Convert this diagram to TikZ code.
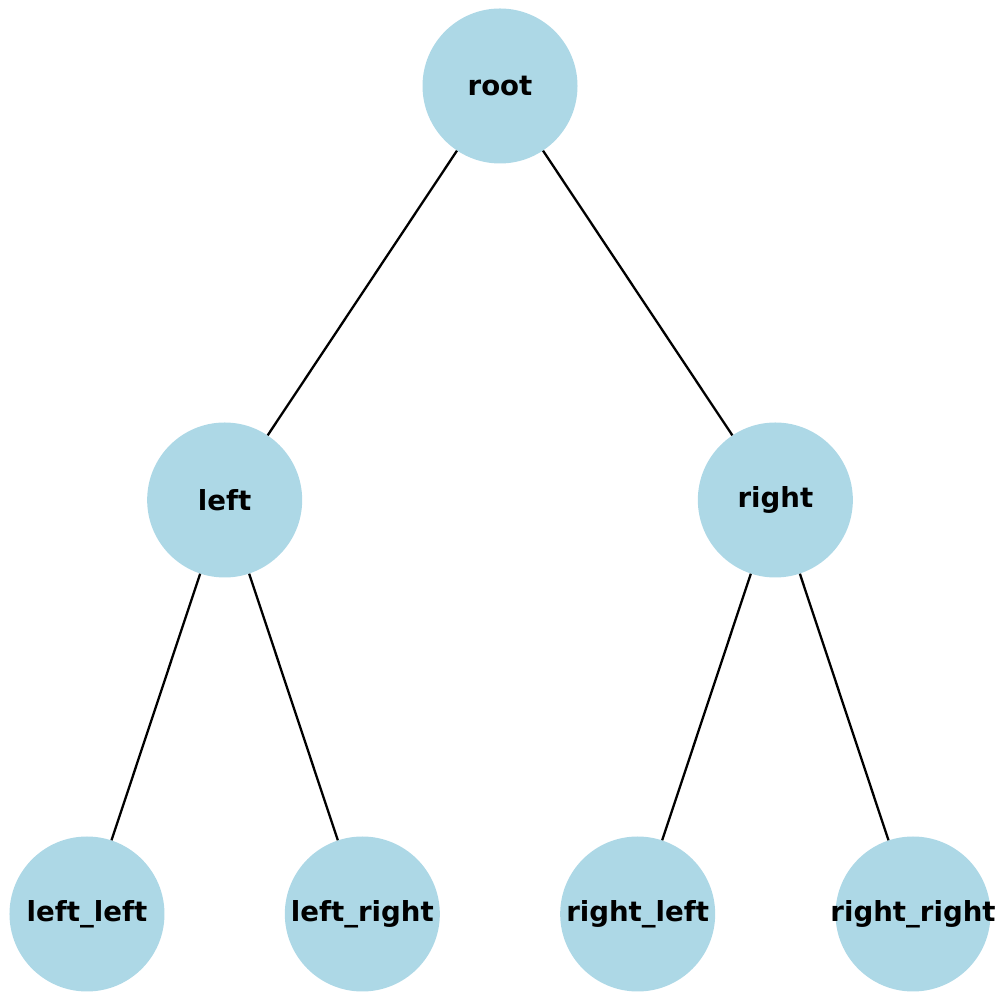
\documentclass[tikz,border=0pt]{standalone}
\usepackage{fontspec}
\setmainfont{DejaVu Sans}
\usepackage{xcolor}
\usepackage{tikz}
\usetikzlibrary{matrix}
\usetikzlibrary{positioning}
\definecolor{hellblau}{HTML}{ADD8E6}
\newcommand{\kname}[1]{\makebox[0pt]{#1}}
\tikzset{
  Kreis/.style={circle, fill=hellblau, draw=none, inner sep=0pt,
    minimum size=155pt, font=\bfseries\fontsize{27.6}{32}\selectfont}, % für Knoten
  Kante/.style={line width=2.3pt, black} % für Verbindungen
}
\begin{document}
\begin{tikzpicture}[x=1pt, y=1pt]
\useasboundingbox (0,0) rectangle (1000,1000);
\matrix (B) at (500,500) [
  matrix of nodes, nodes in empty cells,
  inner sep=0pt, outer sep=0pt,
  column sep=137.67pt, row sep=413pt,
  nodes={minimum width=0pt, inner sep=0pt}
  ]
{
  &&&&&&  \\
  &&&&&&  \\
  &&&&&&  \\
};

%Orientierungshilfen
%\foreach \j in {1,...,3}
%{
%	\foreach \k in {1,...,7}
%	{%
%		\node[text=lightgray] at (B-\j-\k){+};
%	};%
%}

%Knoten
\node[Kreis] (root) at (B-1-4) {\kname{root}};
\node[Kreis] (left) at (B-2-2) {\kname{left}};
\node[Kreis] (right) at (B-2-6) {\kname{right}};
\node[Kreis] (leftleft) at (B-3-1) {\kname{left\_left}};
\node[Kreis] (leftright) at (B-3-3) {\kname{left\_right}};
\node[Kreis] (rightleft) at (B-3-5) {\kname{right\_left}};
\node[Kreis] (rightright) at (B-3-7) {\kname{right\_right}};

%Kanten
\draw[Kante] (root) -- (left);
\draw[Kante] (root) -- (right);
\draw[Kante] (left) -- (leftleft);
\draw[Kante] (left) -- (leftright);
\draw[Kante] (right) -- (rightleft);
\draw[Kante] (right) -- (rightright);

\end{tikzpicture}
\end{document}
